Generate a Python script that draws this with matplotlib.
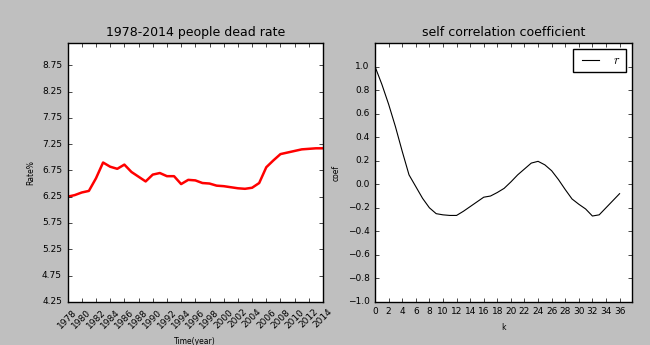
import numpy as np
import matplotlib
matplotlib.use('Agg')
import matplotlib.pyplot as plt

plt.style.use('classic')

# death rate per year (per mille)
years = np.arange(1978, 2015)
rate = [6.25, 6.28, 6.33, 6.36, 6.60, 6.90, 6.82, 6.78, 6.86, 6.72,
        6.63, 6.54, 6.67, 6.70, 6.64, 6.64, 6.49, 6.57, 6.56, 6.51,
        6.50, 6.46, 6.45, 6.43, 6.41, 6.40, 6.42, 6.51, 6.81, 6.94,
        7.06, 7.09, 7.12, 7.15, 7.16, 7.17, 7.17]

# autocorrelation coefficient for lag k
lags = np.arange(0, 37)
coef = [1.00, 0.85, 0.68, 0.49, 0.28, 0.08, -0.02, -0.12, -0.20, -0.25,
        -0.26, -0.265, -0.265, -0.23, -0.19, -0.15, -0.11, -0.10, -0.07, -0.035,
        0.02, 0.08, 0.13, 0.18, 0.195, 0.165, 0.115, 0.04, -0.045, -0.125,
        -0.17, -0.21, -0.27, -0.26, -0.20, -0.14, -0.08]

fig = plt.figure(figsize=(6.5, 3.45), dpi=100)
fig.patch.set_facecolor('#bfbfbf')

ax1 = fig.add_axes([0.104, 0.125, 0.393, 0.75])
ax1.plot(years, rate, color='red', lw=1.8)
ax1.set_xlim(1978, 2014)
ax1.set_ylim(min(rate) - 2, max(rate) + 2)
ax1.set_xticks(np.arange(1978, 2015, 2))
ax1.set_xticklabels([str(y) for y in range(1978, 2015, 2)], rotation=45)
ax1.set_yticks(np.arange(4.25, 9.0, 0.5))
ax1.set_yticklabels(['%.2f' % v for v in np.arange(4.25, 9.0, 0.5)])
ax1.tick_params(labelsize=6.5, length=3)
ax1.set_title('1978-2014 people dead rate', fontsize=9)
ax1.set_xlabel('Time(year)', fontsize=5.5)
ax1.set_ylabel('Rate%', fontsize=5.5)

ax2 = fig.add_axes([0.577, 0.125, 0.395, 0.75])
ax2.plot(lags, coef, color='black', lw=0.8, label='$r$')
ax2.set_xlim(0, 37.8)
ax2.set_ylim(-1, 1.2)
ax2.set_xticks(np.arange(0, 37, 2))
ax2.set_yticks(np.arange(-1.0, 1.01, 0.2))
ax2.tick_params(labelsize=6.5, length=3)
ax2.set_title('self correlation coefficient', fontsize=9)
ax2.set_xlabel('k', fontsize=5.5)
ax2.set_ylabel('coef', fontsize=5.5)
ax2.legend(loc='upper right', fontsize=9)

fig.savefig('out.png', dpi=100, facecolor=fig.get_facecolor())
